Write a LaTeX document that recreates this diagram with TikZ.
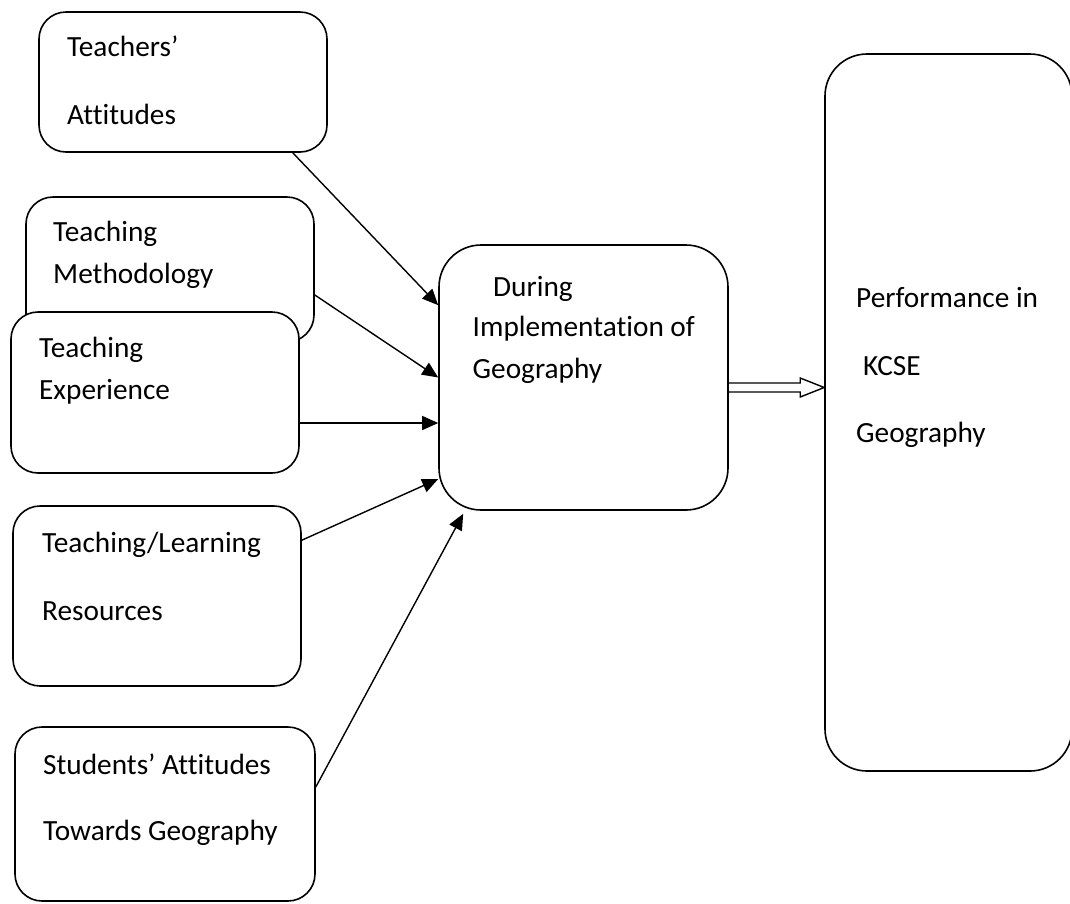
\documentclass[tikz,border=0pt]{standalone}
\usepackage{fontspec}
\setmainfont{Carlito}[Ligatures={TeX,NoCommon}]
\usetikzlibrary{arrows.meta,calc}
\begin{document}
\begin{tikzpicture}[x=1pt,y=-1pt,
  box/.style={draw=black, fill=white, line width=1.6pt, rounded corners=27pt, inner sep=0pt},
  bigbox/.style={box, rounded corners=42pt},
  lbl/.style={anchor=base west, inner sep=0pt, font=\fontsize{29.3}{35}\selectfont},
  link/.style={line width=1.4pt, -{Triangle[length=16pt,width=14pt]}},
]
\useasboundingbox (0,0) rectangle (1070,903);

% factor boxes on the left
\node[box, minimum width=288pt, minimum height=140pt] (ta) at (183,82) {};
\node[box, minimum width=288pt, minimum height=145pt] (tm) at (170,269.5) {};
\node[box, minimum width=288pt, minimum height=161pt] (te) at (155,392.5) {};
\node[box, minimum width=288pt, minimum height=180pt] (tl) at (157,596) {};
\node[box, minimum width=300pt, minimum height=174pt] (sa) at (165,814) {};

% process and outcome boxes
\node[bigbox, minimum width=289pt, minimum height=265pt] (mid) at (583.5,377.5) {};
\node[bigbox, minimum width=247pt, minimum height=717pt] (perf) at (948.5,412.5) {};

% texts
\node[lbl] (ta1) at (67,56) {Teachers’};
\node[lbl] (ta2) at (67,124) {Attitudes};
\node[lbl] (tm1) at (53,241) {Teaching};
\node[lbl] (tm2) at (53,283) {Methodology};
\node[lbl] (te1) at (39,357) {Teaching};
\node[lbl] (te2) at (39,399) {Experience};
\node[lbl] (tl1) at (42,552) {Teaching/Learning};
\node[lbl] (tl2) at (42,620.5) {Resources};
\node[lbl] (sa1) at (43,774) {Students’ Attitudes};
\node[lbl] (sa2) at (43,840.5) {Towards Geography};
\node[lbl] (m1) at (493,296) {During};
\node[lbl] (m2) at (472.5,336.5) {Implementation of};
\node[lbl] (m3) at (472.5,378) {Geography};
\node[lbl] (p1) at (856,307) {Performance in};
\node[lbl] (p2) at (863,375) {KCSE};
\node[lbl] (p3) at (856,442) {Geography};

% connectors into the process box
\coordinate (a5end) at ($(mid.south west)+(25,3)$);
\draw[link] ($(ta.south east)+(-35,0)$) -- ($(mid.north west)+(0,61)$);
\draw[link] ($(tm.east)+(0,25.5)$) -- (mid.west);
\draw[link] ($(te.east)+(0,30.5)$) -- ($(mid.west)+(0,45.5)$);
\draw[link] ($(tl.north east)+(0,35)$) -- ($(mid.west)+(0,101.5)$);
\draw[link] ($(sa.east)+(0,-27)$) -- (a5end);

% hollow block arrow to the outcome box
\coordinate (oS) at (mid.east |- 0,387.5);
\coordinate (oT) at (perf.west |- oS);
\draw[line width=1.4pt, line join=miter]
  ($(oS)+(0,-4.5)$) -- ($(oT)+(-24,-4.5)$) -- ($(oT)+(-24,-9.5)$) -- (oT)
  -- ($(oT)+(-24,9.5)$) -- ($(oT)+(-24,4.5)$) -- ($(oS)+(0,4.5)$);
\end{tikzpicture}
\end{document}
